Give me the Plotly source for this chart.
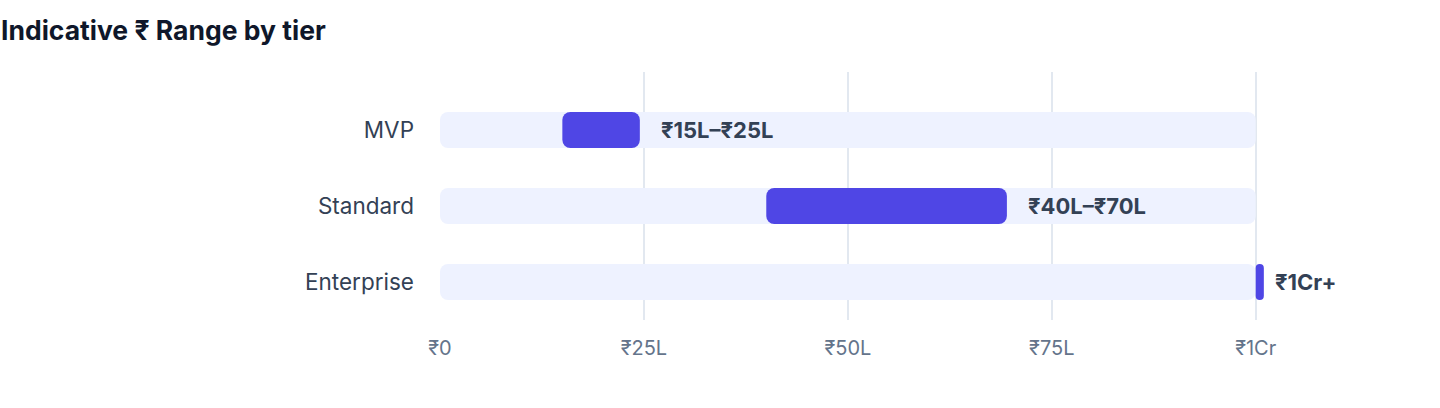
import plotly.graph_objects as go

tiers = ["MVP", "Standard", "Enterprise"]
range_start = [15, 40, 100]
range_end = [24.5, 69.5, 101]
track_max = [100, 100, 100]
range_labels = ["₹15L–₹25L", "₹40L–₹70L", "₹1Cr+"]
tick_values = [0, 25, 50, 75, 100]
tick_labels = ["₹0", "₹25L", "₹50L", "₹75L", "₹1Cr"]

FONT = "Inter, 'Liberation Sans', 'DejaVu Sans', sans-serif"
INDIGO = "#4F46E5"
TRACK = "#EEF2FF"

widths = [e - s for s, e in zip(range_start, range_end)]

fig = go.Figure()
fig.add_trace(go.Bar(
    y=tiers, x=track_max, base=[0] * len(tiers), orientation="h",
    marker=dict(color=TRACK, cornerradius=8, line=dict(width=0)),
    width=0.474, hoverinfo="skip", showlegend=False,
))
fig.add_trace(go.Bar(
    y=tiers, x=widths, base=range_start,
    orientation="h",
    marker=dict(color=INDIGO, cornerradius=8, line=dict(width=0)),
    width=0.474, showlegend=False,
))

for t, e, w, lab in zip(tiers, range_end, widths, range_labels):
    fig.add_annotation(
        x=e, y=t, text=f"<b>{lab}</b>", showarrow=False,
        xanchor="left", yanchor="middle",
        xshift=19 if w > 2 else 9,
        font=dict(family=FONT, size=22, color="#334155"),
    )

fig.update_layout(
    width=1440, height=408,
    margin=dict(l=440, r=168, t=72, b=88),
    paper_bgcolor="white", plot_bgcolor="white",
    barmode="overlay",
    title=dict(
        text="<b>Indicative ₹ Range by tier</b>",
        x=1 / 1440, xref="container", xanchor="left",
        y=1 - 31 / 408, yref="container", yanchor="middle",
        font=dict(family=FONT, size=26.5, color="#0F172A"),
    ),
    xaxis=dict(
        range=[0, 102], tickvals=tick_values, ticktext=tick_labels,
        showgrid=True, gridcolor="#E2E8F0", gridwidth=2,
        zeroline=False, showline=False, ticks="",
        ticklabelstandoff=14,
        tickfont=dict(family=FONT, size=20, color="#64748B"),
        fixedrange=True,
    ),
    yaxis=dict(
        categoryorder="array", categoryarray=tiers,
        range=[2.5, -0.763],
        showgrid=False, zeroline=False, showline=False, ticks="",
        ticklabelstandoff=25,
        tickfont=dict(family=FONT, size=22.5, color="#334155"),
        fixedrange=True,
    ),
)

fig.write_html(
    "out.html",
    config={"displayModeBar": False},
    post_script="document.body.style.margin='0';document.body.style.padding='0';",
)
